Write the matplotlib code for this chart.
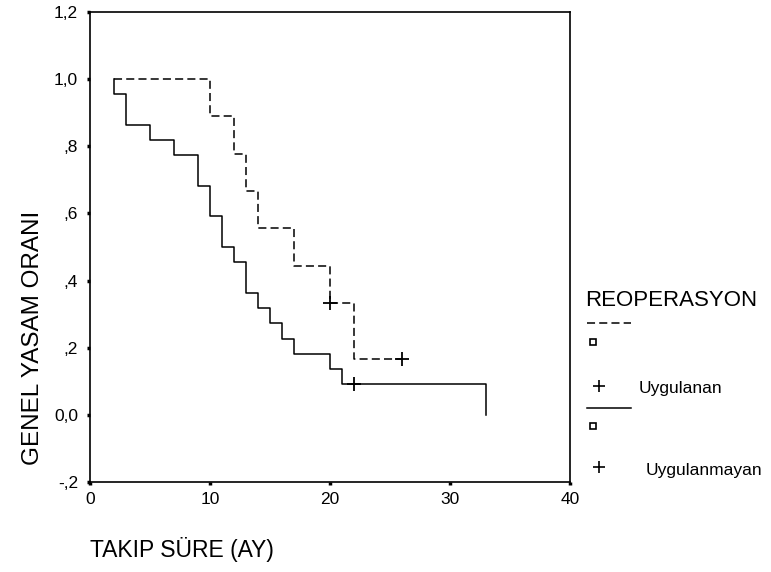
import matplotlib
matplotlib.use("Agg")
import matplotlib.pyplot as plt
from matplotlib.lines import Line2D

# Kaplan-Meier steps (time in months, survival ratio)
uygulanan_times = [2, 10, 12, 13, 14, 17, 20, 22, 26]
uygulanan_surv = [1.0, 0.889, 0.778, 0.667, 0.556, 0.444, 0.333, 0.167, 0.167]
uygulanan_cens_t = [20, 26]
uygulanan_cens_s = [0.333, 0.167]

uygulanmayan_times = [2, 2, 3, 5, 7, 9, 10, 11, 12, 13, 14, 15, 16, 17, 20, 21, 33]
uygulanmayan_surv = [1.0, 0.955, 0.864, 0.818, 0.773, 0.682, 0.591, 0.5, 0.455,
                     0.364, 0.318, 0.273, 0.227, 0.182, 0.136, 0.091, 0.0]
uygulanmayan_cens_t = [22]
uygulanmayan_cens_s = [0.091]

y_ticks = [-0.2, 0.0, 0.2, 0.4, 0.6, 0.8, 1.0, 1.2]
y_tick_labels = ["-,2", "0,0", ",2", ",4", ",6", ",8", "1,0", "1,2"]
x_ticks = [0, 10, 20, 30, 40]
x_tick_labels = ["0", "10", "20", "30", "40"]

W, H = 771, 572

plt.rcParams["font.family"] = ["Liberation Sans", "DejaVu Sans"]
plt.rcParams["lines.scale_dashes"] = False

DASH = (0, (5.8, 3.0))


def fx(px):
    return px / W


def fy(py):
    return 1 - py / H


fig = plt.figure(figsize=(W / 100, H / 100), dpi=100)
ax = fig.add_axes([fx(90), fy(482), fx(570) - fx(90), fy(12) - fy(482)])

ax.plot(uygulanan_times, uygulanan_surv, drawstyle="steps-post", color="black",
        lw=1.1, linestyle=DASH)
ax.plot(uygulanmayan_times, uygulanmayan_surv, drawstyle="steps-post", color="black", lw=1.1)
ax.plot(uygulanan_cens_t, uygulanan_cens_s, "+", color="black", ms=10, mew=1.3)
ax.plot(uygulanmayan_cens_t, uygulanmayan_cens_s, "+", color="black", ms=10, mew=1.3)

ax.set_xlim(0, 40)
ax.set_ylim(-0.2, 1.2)
ax.set_xticks(x_ticks)
ax.set_xticklabels(x_tick_labels)
ax.set_yticks(y_ticks)
ax.set_yticklabels(y_tick_labels)
ax.tick_params(direction="out", length=2.5, width=2.5, labelsize=12.5, color="black")
ax.tick_params(axis="y", pad=6)
ax.tick_params(axis="x", pad=5)
for s in ax.spines.values():
    s.set_linewidth(1.2)

# axis titles placed like the SPSS output
fig.text(fx(33), fy(338), "GENEL YASAM ORANI", rotation=90, ha="center", va="center", fontsize=17.5)
fig.text(fx(90), fy(550), "TAKIP SÜRE (AY)", ha="left", va="center", fontsize=16.5)

# hand made legend on the right
fig.text(fx(585), fy(300), "REOPERASYON", ha="left", va="center", fontsize=16)
fig.add_artist(Line2D([fx(587), fx(631)], [fy(323), fy(323)], color="black", lw=1.1, linestyle=DASH))
fig.add_artist(Line2D([fx(593)], [fy(342)], marker="s", ms=4.5, mfc="white", mec="black", mew=1.2))
fig.add_artist(Line2D([fx(599)], [fy(386)], marker="+", ms=9, color="black", mew=1.2))
fig.text(fx(639), fy(388), "Uygulanan", ha="left", va="center", fontsize=12.5)
fig.add_artist(Line2D([fx(587), fx(631)], [fy(408), fy(408)], color="black", lw=1.1))
fig.add_artist(Line2D([fx(593)], [fy(426)], marker="s", ms=4.5, mfc="white", mec="black", mew=1.2))
fig.add_artist(Line2D([fx(599)], [fy(467)], marker="+", ms=9, color="black", mew=1.2))
fig.text(fx(646), fy(471), "Uygulanmayan", ha="left", va="center", fontsize=12.5)

plt.savefig("out.png", dpi=100)
plt.close()
